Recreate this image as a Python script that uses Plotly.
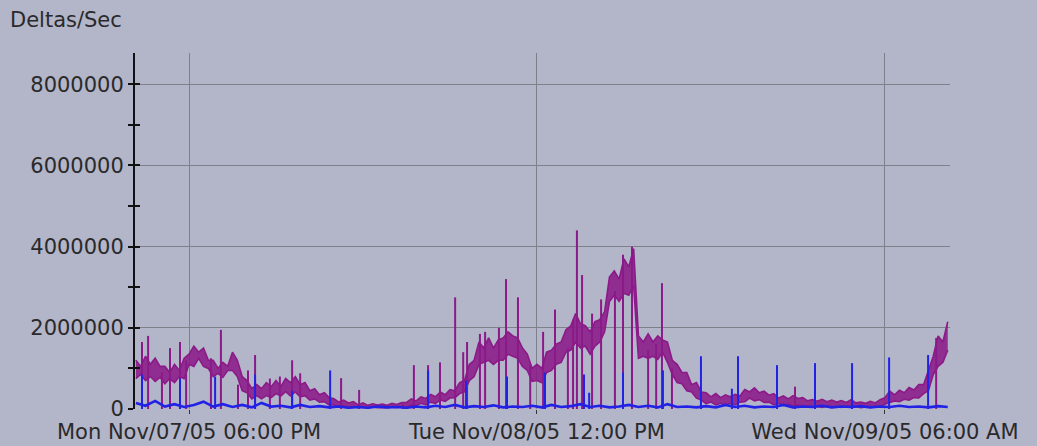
import plotly.graph_objects as go
import pandas as pd

# ---------------- data (values in millions of deltas/sec) ----------------
purple_start = "2005-11-07 15:15"
purple_step = "15min"
# lower / upper edge of the dense purple band
purple_low = [
    0.75, 0.85, 0.7, 0.8, 0.68, 0.78,
    0.62, 0.75, 0.65, 0.8, 0.75,
    1.1, 1.05, 1.25, 1.05, 1.0,
    0.8, 0.88, 0.78, 0.95, 0.95,
    0.8, 0.45, 0.4, 0.25, 0.33,
    0.25, 0.33, 0.28, 0.38, 0.32,
    0.43, 0.32, 0.42, 0.3, 0.33,
    0.22, 0.25, 0.17, 0.18, 0.1,
    0.1, 0.05, 0.08, 0.04, 0.06,
    0.03, 0.05, 0.03, 0.05, 0.03,
    0.04, 0.03, 0.05, 0.04, 0.06,
    0.05, 0.1, 0.08, 0.14, 0.1,
    0.17, 0.14, 0.22, 0.19, 0.27,
    0.28, 0.38, 0.42, 0.7, 0.8,
    1.1, 1.15, 1.2, 1.1, 1.2,
    1.2, 1.35, 1.3, 1.25, 1.05,
    0.95, 0.68, 0.7, 0.65, 0.9,
    0.95, 1.1, 1.15, 1.4, 1.45,
    1.65, 1.5, 1.55, 1.35, 1.55,
    1.65, 1.9, 2.65, 2.8, 2.65,
    2.85, 2.8, 3.05, 1.25, 1.3,
    1.25, 1.3, 1.22, 1.4, 1.15,
    0.85, 0.65, 0.62, 0.45, 0.42,
    0.27, 0.22, 0.13, 0.17, 0.1,
    0.14, 0.09, 0.14, 0.1, 0.17,
    0.18, 0.27, 0.2, 0.23, 0.16,
    0.17, 0.1, 0.14, 0.09, 0.12,
    0.08, 0.1, 0.06, 0.08, 0.05,
    0.06, 0.04, 0.07, 0.04, 0.06,
    0.04, 0.07, 0.04, 0.06, 0.03,
    0.05, 0.04, 0.06, 0.05, 0.12,
    0.16, 0.2, 0.18, 0.24, 0.22,
    0.28, 0.27, 0.38, 0.45, 0.85,
    1.05, 1.15, 1.45,
]
purple_high = [
    1.2, 1.05, 1.3, 1.1, 1.25, 1.05,
    1.05, 0.9, 1.1, 0.95, 1.25,
    1.35, 1.55, 1.4, 1.5, 1.2,
    1.2, 1.0, 1.15, 1.05, 1.4,
    1.2, 0.8, 0.7, 0.5, 0.6,
    0.5, 0.65, 0.55, 0.7, 0.55,
    0.75, 0.65, 0.8, 0.6, 0.65,
    0.45, 0.5, 0.35, 0.4, 0.28,
    0.25, 0.17, 0.22, 0.15, 0.18,
    0.1, 0.15, 0.09, 0.13, 0.1,
    0.12, 0.09, 0.14, 0.11, 0.16,
    0.16, 0.25, 0.2, 0.3, 0.26,
    0.36, 0.3, 0.42, 0.35, 0.48,
    0.45, 0.65, 0.7, 1.1, 1.2,
    1.65, 1.5, 1.75, 1.5, 1.7,
    1.75, 1.9, 1.8, 1.75, 1.5,
    1.35, 1.0, 1.1, 1.0, 1.4,
    1.45, 1.6, 1.65, 1.95, 2.05,
    2.35, 2.1, 2.05, 1.9, 2.15,
    2.2, 2.4, 3.25, 3.4, 3.2,
    3.7, 3.5, 3.95, 1.8, 1.65,
    1.85, 1.65, 1.8, 1.7, 1.65,
    1.2, 1.1, 0.9, 0.9, 0.6,
    0.65, 0.42, 0.4, 0.3, 0.38,
    0.28, 0.35, 0.3, 0.36, 0.32,
    0.48, 0.42, 0.52, 0.4, 0.44,
    0.34, 0.38, 0.27, 0.32, 0.25,
    0.33, 0.26, 0.28, 0.2, 0.23,
    0.19, 0.24, 0.18, 0.22, 0.17,
    0.21, 0.16, 0.23, 0.15, 0.17,
    0.14, 0.19, 0.15, 0.23, 0.28,
    0.44, 0.35, 0.46, 0.4, 0.53,
    0.47, 0.6, 0.6, 0.95, 1.3,
    1.8, 1.65, 2.15,
]

purple_spike_times = [
    "2005-11-07 15:34", "2005-11-07 15:53", "2005-11-07 16:36", "2005-11-07 17:01",
    "2005-11-07 17:32", "2005-11-07 17:51", "2005-11-07 19:08", "2005-11-07 19:39",
    "2005-11-07 20:32", "2005-11-07 21:03", "2005-11-07 21:25", "2005-11-07 22:11",
    "2005-11-07 22:42", "2005-11-07 23:20", "2005-11-07 23:45", "2005-11-08 01:52",
    "2005-11-08 02:48", "2005-11-08 05:04", "2005-11-08 05:38", "2005-11-08 06:22",
    "2005-11-08 06:59", "2005-11-08 07:46", "2005-11-08 08:11", "2005-11-08 08:23",
    "2005-11-08 09:03", "2005-11-08 09:19", "2005-11-08 10:02", "2005-11-08 10:24",
    "2005-11-08 11:01", "2005-11-08 11:39", "2005-11-08 12:19", "2005-11-08 12:56",
    "2005-11-08 13:36", "2005-11-08 13:52", "2005-11-08 14:04", "2005-11-08 14:20",
    "2005-11-08 14:51", "2005-11-08 15:19", "2005-11-08 16:02", "2005-11-08 16:27",
    "2005-11-08 16:55", "2005-11-08 17:45", "2005-11-08 18:10", "2005-11-08 18:28",
    "2005-11-08 18:59", "2005-11-09 01:21", "2005-11-09 08:39",
]
purple_spike_vals = [
    1.65, 1.8, 0.9, 1.5,
    1.65, 1.2, 1.25, 1.95,
    0.6, 0.95, 1.33, 0.75,
    0.8, 1.2, 0.88, 0.76,
    0.47, 0.12, 1.08, 1.08,
    1.15, 2.75, 1.4, 1.65,
    1.85, 1.9, 2.0, 3.2,
    2.75, 1.1, 1.9, 2.45,
    1.5, 2.2, 4.4, 3.3,
    2.35, 2.7, 2.9, 3.8,
    4.0, 1.45, 1.6, 3.1,
    1.0, 0.55, 1.75,
]

blue_start = "2005-11-07 15:15"
blue_step = "30min"
blue_vals = [
    0.15, 0.08, 0.2, 0.06, 0.12, 0.05, 0.1, 0.18, 0.06, 0.12,
    0.05, 0.1, 0.04, 0.15, 0.06, 0.08, 0.04, 0.1, 0.05, 0.07,
    0.04, 0.06, 0.03, 0.05, 0.03, 0.06, 0.04, 0.05, 0.03, 0.06,
    0.04, 0.08, 0.05, 0.1, 0.04, 0.07, 0.05, 0.09, 0.04, 0.06,
    0.05, 0.08, 0.04, 0.1, 0.05, 0.07, 0.12, 0.05, 0.08, 0.04,
    0.06, 0.1, 0.05, 0.08, 0.04, 0.12, 0.05, 0.06, 0.04, 0.07,
    0.04, 0.1, 0.05, 0.08, 0.04, 0.06, 0.05, 0.1, 0.04, 0.06,
    0.05, 0.08, 0.04, 0.06, 0.05, 0.07, 0.04, 0.06, 0.05, 0.08,
    0.05, 0.06, 0.04, 0.07, 0.05,
]

blue_spike_times = [
    "2005-11-07 15:34", "2005-11-07 17:32", "2005-11-07 19:21", "2005-11-07 21:25",
    "2005-11-07 23:20", "2005-11-08 01:18", "2005-11-08 06:22", "2005-11-08 08:20",
    "2005-11-08 10:27", "2005-11-08 12:25", "2005-11-08 14:26", "2005-11-08 14:42",
    "2005-11-08 16:27", "2005-11-08 18:31", "2005-11-08 20:29", "2005-11-08 22:05",
    "2005-11-08 22:24", "2005-11-09 00:25", "2005-11-09 02:23", "2005-11-09 04:18",
    "2005-11-09 06:13", "2005-11-09 08:14",
]
blue_spike_vals = [
    0.85, 0.75, 0.8, 0.85,
    0.45, 0.95, 0.95, 0.7,
    0.8, 0.9, 0.85, 0.4,
    0.9, 0.95, 1.3, 0.5,
    1.3, 1.08, 1.13, 1.13,
    1.27, 1.33,
]

tick_times = ["2005-11-07 18:00", "2005-11-08 12:00", "2005-11-09 06:00"]
tick_labels = ["Mon Nov/07/05 06:00 PM", "Tue Nov/08/05 12:00 PM", "Wed Nov/09/05 06:00 AM"]
y_ticks = [0, 2000000, 4000000, 6000000, 8000000]
y_minor = [1000000, 3000000, 5000000, 7000000]
y_title = "Deltas/Sec"

# ---------------- build ----------------
SCALE = 1e6
purple_x = pd.date_range(purple_start, periods=len(purple_low), freq=purple_step)
blue_x = pd.date_range(blue_start, periods=len(blue_vals), freq=blue_step)


def segments(times, vals):
    xs, ys = [], []
    for t, v in zip(times, vals):
        xs += [t, t, None]
        ys += [0, v * SCALE, None]
    return xs, ys


PURPLE = "#8b1a89"
BLUE = "#2222e6"
BG = "#b3b5c9"
GRID = "#7e808c"
TXT = "#2a2a2a"
FONT = "DejaVu Sans"

fig = go.Figure()
px_, py_ = segments(purple_spike_times, purple_spike_vals)
fig.add_trace(go.Scatter(x=px_, y=py_, mode="lines", line=dict(color=PURPLE, width=2),
                         hoverinfo="skip", showlegend=False))
fig.add_trace(go.Scatter(x=purple_x, y=[v * SCALE for v in purple_low], mode="lines",
                         line=dict(color=PURPLE, width=1.6), showlegend=False))
fig.add_trace(go.Scatter(x=purple_x, y=[v * SCALE for v in purple_high], mode="lines",
                         line=dict(color=PURPLE, width=1.6), fill="tonexty",
                         fillcolor="rgba(139,26,137,0.88)", showlegend=False))
bx_, by_ = segments(blue_spike_times, blue_spike_vals)
fig.add_trace(go.Scatter(x=bx_, y=by_, mode="lines", line=dict(color=BLUE, width=2),
                         hoverinfo="skip", showlegend=False))
fig.add_trace(go.Scatter(x=blue_x, y=[v * SCALE for v in blue_vals], mode="lines",
                         line=dict(color=BLUE, width=2.6), showlegend=False))

fig.update_layout(
    width=1037, height=446,
    margin=dict(l=135, r=87, t=53, b=37),
    paper_bgcolor=BG, plot_bgcolor=BG,
    font=dict(family=FONT, size=21, color=TXT),
    title=dict(text=y_title, x=10 / 1037, xref="container", xanchor="left",
               y=1 - 20 / 446, yref="container", yanchor="middle",
               font=dict(family=FONT, size=21, color=TXT)),
    xaxis=dict(type="date", range=["2005-11-07 15:12:20", "2005-11-09 09:22"],
               tickvals=tick_times, ticktext=tick_labels, automargin=False,
               showgrid=True, gridcolor=GRID, gridwidth=1,
               ticks="outside", ticklen=4, tickcolor="#333333",
               ticklabelstandoff=0,
               showline=False, zeroline=False,
               tickfont=dict(family=FONT, size=21, color=TXT)),
    yaxis=dict(range=[0, 8770000], tickvals=y_ticks, ticktext=[str(v) for v in y_ticks],
               automargin=False,
               showgrid=True, gridcolor=GRID, gridwidth=1,
               showline=True, linecolor="#111111", linewidth=2,
               ticks="outside", ticklen=5, tickcolor="#111111", tickwidth=2,
               minor=dict(tickvals=y_minor, ticks="outside", ticklen=5,
                          tickcolor="#111111", tickwidth=2, showgrid=False),
               zeroline=False,
               tickfont=dict(family=FONT, size=21, color=TXT)),
    yaxis2=dict(overlaying="y", matches="y", side="left", showgrid=False, automargin=False,
                showticklabels=False, showline=False, zeroline=False,
                tickvals=y_ticks, ticks="inside", ticklen=5, tickcolor="#111111", tickwidth=2,
                minor=dict(tickvals=y_minor, ticks="inside", ticklen=5,
                           tickcolor="#111111", tickwidth=2)),
)
# invisible trace to anchor the inner-tick axis
fig.add_trace(go.Scatter(x=[tick_times[0]], y=[0], yaxis="y2", mode="markers",
                         marker=dict(opacity=0), hoverinfo="skip", showlegend=False))

fig.write_html("out.html", config={"displayModeBar": False},
               post_script="document.body.style.margin='0';document.body.style.padding='0';")
